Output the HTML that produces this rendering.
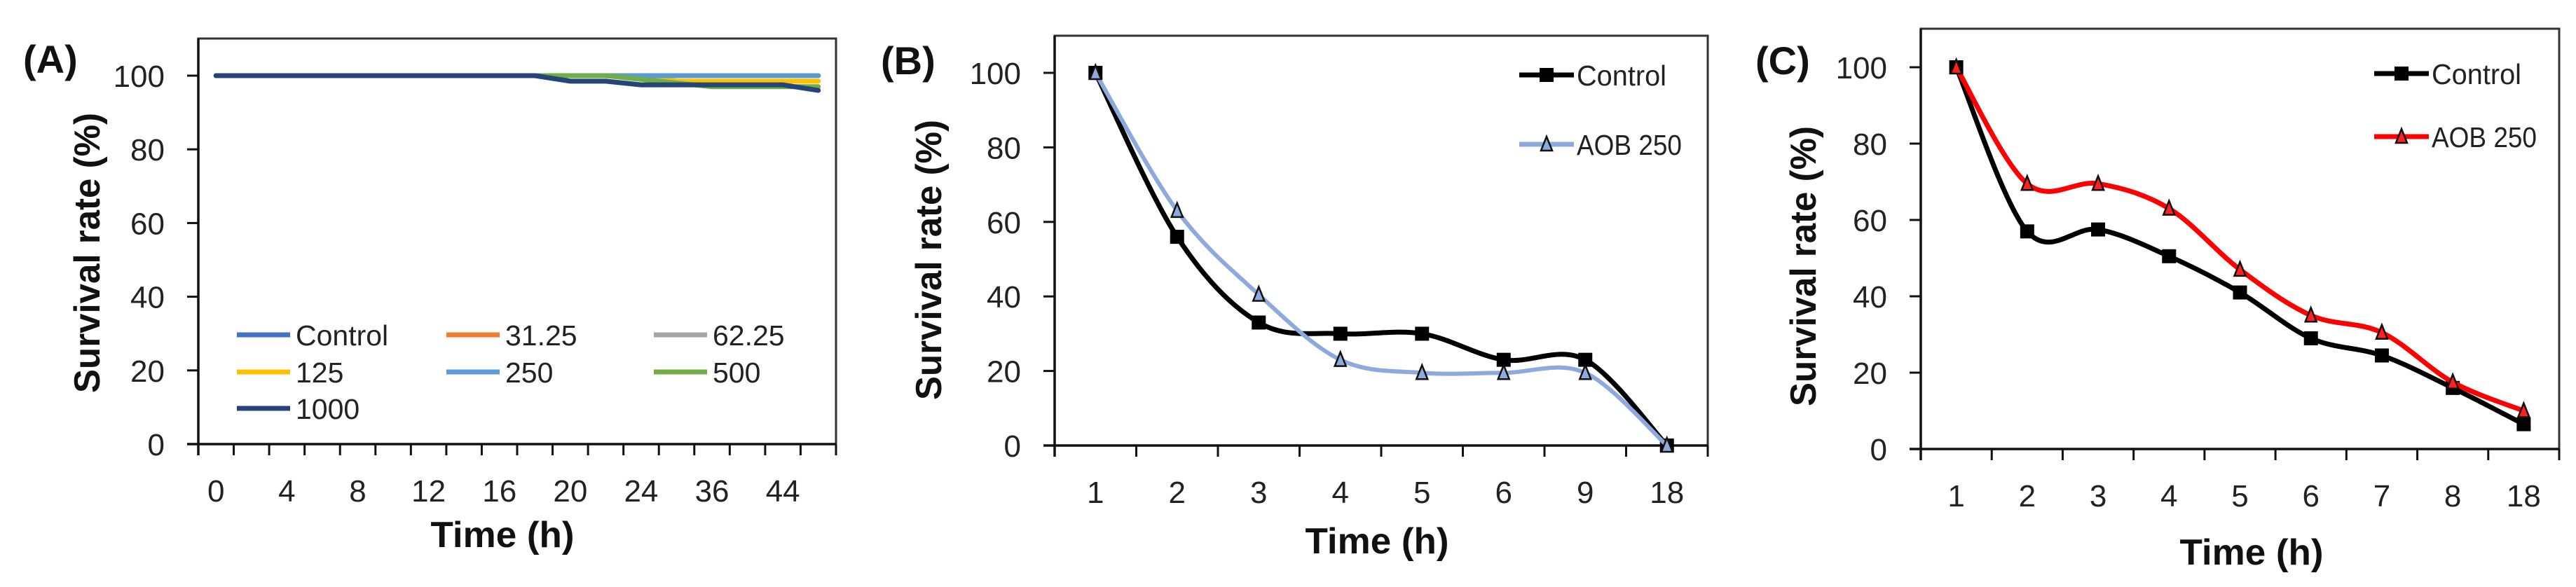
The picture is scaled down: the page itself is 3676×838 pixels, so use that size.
<!DOCTYPE html>
<html><head><meta charset="utf-8"><style>
html,body{margin:0;padding:0;background:#fff;}
svg{display:block;}
.tk{font-family:"Liberation Sans",sans-serif;font-size:44px;fill:#222;}
.tt{font-family:"Liberation Sans",sans-serif;font-weight:bold;font-size:52px;fill:#111;}
.pl{font-family:"Liberation Sans",sans-serif;font-weight:bold;font-size:56px;fill:#111;}
.lg{font-family:"Liberation Sans",sans-serif;font-size:41px;fill:#222;}
</style></head><body>
<svg id="fig" width="3676" height="838" viewBox="0 0 3676 838" xmlns="http://www.w3.org/2000/svg"></svg>
<script>
// Panel A data
const catsA = ["0","","4","","8","","12","","16","","20","","24","","36","","44",""];
const namesA = ["Control","31.25","62.25","125","250","500","1000"];
const colorsA = ["#4472C4","#ED7D31","#A5A5A5","#FFC000","#5B9BD5","#70AD47","#264478"];
const aControl = [100,100,100,100,100,100,100,100,100,100,100,100,100,100,100,100,100,100];
const a3125 = [100,100,100,100,100,100,100,100,100,100,100,100,100,100,100,100,100,100];
const a6225 = [100,100,100,100,100,100,100,100,100,100,100,100,100,100,100,100,100,100];
const a125 = [100,100,100,100,100,100,100,100,100,100,100,100,100,98.5,98.5,98.5,98.5,98.5];
const a250 = [100,100,100,100,100,100,100,100,100,100,100,100,100,100,100,100,100,100];
const a500 = [100,100,100,100,100,100,100,100,100,100,100,100,99,98,97,97,97,97];
const a1000 = [100,100,100,100,100,100,100,100,100,100,98.5,98.5,97.5,97.5,97.5,97.5,97.5,96];
// Panel B data
const catsB = ["1","2","3","4","5","6","9","18"];
const bControl = [100,56,33,30,30,23,23,0];
const bAOB = [100,63,40.5,23,19.5,19.5,19.5,0];
// Panel C data
const catsC = ["1","2","3","4","5","6","7","8","18"];
const cControl = [100,57,57.5,50.5,41,29,24.5,16,6.5];
const cAOB = [100,69.5,69.5,63,47,35,30.5,17.5,10];
const yTicks = [0,20,40,60,80,100];

const NS="http://www.w3.org/2000/svg";
const svg=document.getElementById('fig');
function mk(tag,attrs,parent){const e=document.createElementNS(NS,tag);for(const k in attrs)e.setAttribute(k,attrs[k]);(parent||svg).appendChild(e);return e;}
function smoothPath(pts){
  if(pts.length<2)return "";
  let d=`M${pts[0][0]},${pts[0][1]}`;
  for(let i=0;i<pts.length-1;i++){
    const p0=pts[Math.max(0,i-1)],p1=pts[i],p2=pts[i+1],p3=pts[Math.min(pts.length-1,i+2)];
    const c1=[p1[0]+(p2[0]-p0[0])/6,p1[1]+(p2[1]-p0[1])/6];
    const c2=[p2[0]-(p3[0]-p1[0])/6,p2[1]-(p3[1]-p1[1])/6];
    d+=` C${c1[0]},${c1[1]} ${c2[0]},${c2[1]} ${p2[0]},${p2[1]}`;
  }
  return d;
}
function panel(cfg){
  const g=mk('g',{});
  
  
  const n=cfg.cats.length, cw=(cfg.x1-cfg.x0)/n;
  const X=i=>cfg.x0+cw*(i+0.5);
  const Y=v=>cfg.y0-(v/20)*cfg.step;
  const fr=mk('rect',{x:cfg.x0,y:cfg.top,width:cfg.x1-cfg.x0,height:cfg.y0-cfg.top,fill:'none',stroke:'#333',"stroke-width":3},g);
  
  
  yTicks.forEach(t=>{
    const y=Y(t);
    mk('line',{x1:cfg.x0-16,y1:y,x2:cfg.x0,y2:y,stroke:'#111',"stroke-width":3},g);
    const tx=mk('text',{x:cfg.x0-48,y:y+16,"text-anchor":"end",class:"tk"},g);
    tx.textContent=t;
    
    
  });
  mk('line',{x1:cfg.x0,y1:cfg.top,x2:cfg.x0,y2:cfg.y0+16,stroke:'#111',"stroke-width":3.5},g);
  mk('line',{x1:cfg.x0-16,y1:cfg.y0,x2:cfg.x1,y2:cfg.y0,stroke:'#111',"stroke-width":3.5},g);
  for(let i=0;i<=n;i++){mk('line',{x1:cfg.x0+cw*i,y1:cfg.y0,x2:cfg.x0+cw*i,y2:cfg.y0+16,stroke:'#111',"stroke-width":3},g);}
  cfg.cats.forEach((c,i)=>{
    if(!c)return;
    const tx=mk('text',{x:X(i),y:cfg.y0+82,"text-anchor":"middle",class:"tk"},g);
    tx.textContent=c;
    
    
  });
  const yt=mk('text',{x:0,y:0,"text-anchor":"middle",class:"tt",textLength:400,lengthAdjust:"spacingAndGlyphs",transform:`translate(${cfg.ytx},${cfg.ytc}) rotate(-90)`},g);
  yt.textContent="Survival rate (%)";
  
  
  const xt=mk('text',{x:cfg.xtx,y:cfg.xty,"text-anchor":"middle",class:"tt",textLength:205,lengthAdjust:"spacingAndGlyphs"},g);
  xt.textContent="Time (h)";
  
  
  const pl=mk('text',{x:cfg.plx,y:cfg.ply,class:"pl"},g);
  pl.textContent=cfg.label;
  
  
  cfg.series.forEach(s=>{
    const pts=s.vals.map((v,i)=>[X(i),Y(v)]);
    const p=mk('path',{d:cfg.smooth?smoothPath(pts):('M'+pts.map(q=>q.join(',')).join(' L')),fill:'none',stroke:s.color,"stroke-width":s.w||7,"stroke-linejoin":"round","stroke-linecap":"round"},g);
    
    
    if(s.marker){pts.forEach(q=>drawMarker(g,s,q[0],q[1]));}
  });
  return g;
}
function drawMarker(g,s,x,y){
  let m;
  if(s.marker==='square'){m=mk('rect',{x:x-10,y:y-10,width:20,height:20,fill:'#000'},g);}
  else{m=mk('polygon',{points:`${x},${y-11} ${x-8},${y+9} ${x+8},${y+9}`,fill:s.mfill,stroke:'#111',"stroke-width":2.5},g);}
  
  
}
const seriesA=[aControl,a3125,a6225,a125,a250,a500,a1000].map((v,i)=>({vals:v,color:colorsA[i],key:namesA[i].replace('.','-')}));
const gA=panel({name:'panel-a-chart',label:'(A)',plx:33,ply:104,cats:catsA,x0:283,x1:1193,top:55,y0:634,step:105.2,ytx:142,ytc:361,xtx:717,xty:781,series:seriesA,smooth:false});
const legPos=[[338,478],[637,478],[933,478],[338,531],[637,531],[933,531],[338,583]];
namesA.forEach((nm,i)=>{
  const lg=mk('g',{},gA);
  
  
  const [x,y]=legPos[i];
  mk('line',{x1:x,y1:y,x2:x+76,y2:y,stroke:colorsA[i],"stroke-width":7},lg);
  const t=mk('text',{x:x+84,y:y+15,class:"lg"},lg);t.textContent=nm;
});
const gB=panel({name:'panel-b-chart',label:'(B)',plx:1257,ply:106,cats:catsB,x0:1505,x1:2437,top:51,y0:636,step:106.4,ytx:1343,ytc:371,xtx:1965,xty:790,smooth:true,
  series:[{vals:bControl,color:'#000',key:'control',marker:'square'},{vals:bAOB,color:'#8EA9DB',key:'aob-250',marker:'tri',mfill:'#8EA9DB',w:6}]});
const gC=panel({name:'panel-c-chart',label:'(C)',plx:2505,ply:106,cats:catsC,x0:2741,x1:3652,top:41,y0:641,step:109,ytx:2591,ytc:380,xtx:3213,xty:806,smooth:true,
  series:[{vals:cControl,color:'#000',key:'control',marker:'square'},{vals:cAOB,color:'#FF0000',key:'aob-250',marker:'tri',mfill:'#FF2020'}]});
function legend2(g,x,y1,y2,col2,fill2){
  const a=mk('g',{},g);
  
  
  mk('line',{x1:x,y1:y1,x2:x+78,y2:y1,stroke:'#000',"stroke-width":7},a);
  mk('rect',{x:x+29,y:y1-10,width:20,height:20,fill:'#000'},a);
  const t1=mk('text',{x:x+82,y:y1+15,class:"lg",textLength:128,lengthAdjust:"spacingAndGlyphs"},a);t1.textContent="Control";
  const b=mk('g',{},g);
  
  
  mk('line',{x1:x,y1:y2,x2:x+78,y2:y2,stroke:col2,"stroke-width":7},b);
  mk('polygon',{points:`${x+39},${y2-11} ${x+31},${y2+9} ${x+47},${y2+9}`,fill:fill2,stroke:'#111',"stroke-width":2.5},b);
  const t2=mk('text',{x:x+82,y:y2+15,class:"lg",textLength:150,lengthAdjust:"spacingAndGlyphs"},b);t2.textContent="AOB 250";
}
legend2(gB,2168,107,206,'#8EA9DB','#8EA9DB');
legend2(gC,3388,105,195,'#FF0000','#FF2020');
</script>
</body></html>
